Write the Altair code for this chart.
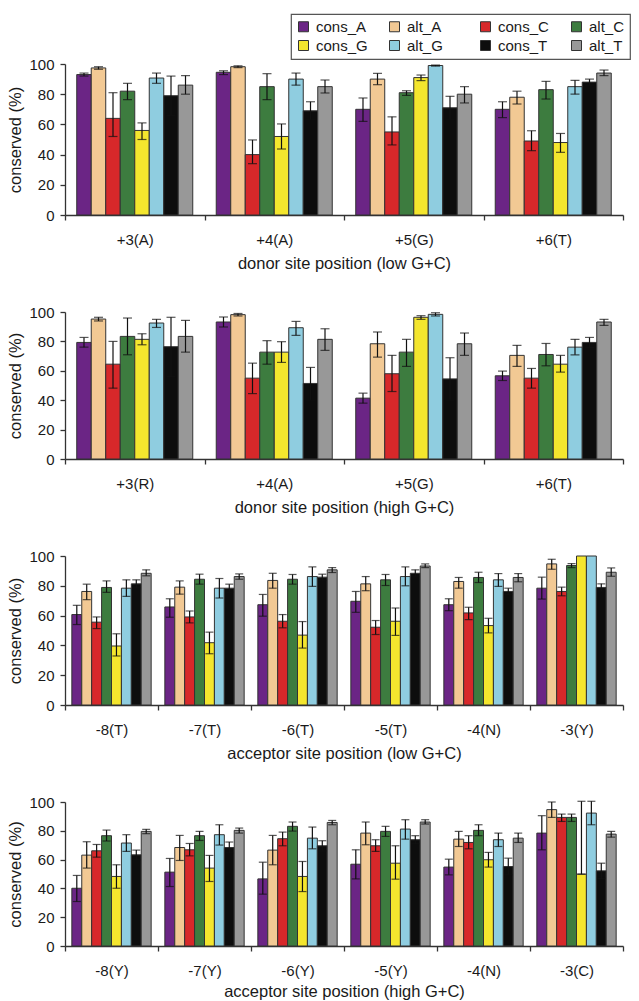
import altair as alt
import pandas as pd

series = ["cons_A", "alt_A", "cons_C", "alt_C", "cons_G", "alt_G", "cons_T", "alt_T"]
colors = ["#6b2585", "#f2c994", "#d7282a", "#3d7c3f", "#f4e62e", "#8fcde0", "#0d0d0d", "#989898"]

# ---- panel 1: donor site position (low G+C) ----
p1_cats = ["+3(A)", "+4(A)", "+5(G)", "+6(T)"]
p1_val = [
    [93, 94.5, 70, 70],
    [97.4, 98.2, 90, 78],
    [64, 40, 55, 49],
    [82, 85, 81, 83],
    [56, 52, 91, 48],
    [90.7, 90, 99, 85],
    [79, 69, 71, 88],
    [86, 85, 80, 94],
]
p1_lo = [
    [92, 93, 62, 64.5],
    [96.5, 97.6, 86.3, 73.5],
    [52, 34, 46.4, 42.6],
    [76.4, 76.4, 79.2, 76.8],
    [50, 43.7, 89, 41.5],
    [87.2, 86, 98.6, 80],
    [66, 63, 63, 86],
    [80, 80.8, 74.2, 92.3],
]
p1_hi = [
    [94, 95.5, 77.5, 75],
    [98.2, 98.8, 93.8, 82],
    [81, 49.7, 65, 55.8],
    [87.2, 93.6, 82.3, 88.5],
    [61, 60.3, 92.7, 54],
    [94, 94, 99.3, 89.2],
    [92, 75, 78.6, 90],
    [92.3, 89.4, 85, 96],
]

# ---- panel 2: donor site position (high G+C) ----
p2_cats = ["+3(R)", "+4(A)", "+5(G)", "+6(T)"]
p2_val = [
    [79.3, 93.2, 41.4, 56.6],
    [95.2, 98.2, 78.4, 70.5],
    [64.5, 55, 58, 55],
    [83.4, 72.7, 72.7, 71.1],
    [81.4, 72.7, 96.4, 64.5],
    [92.5, 89.3, 98.4, 76.1],
    [76.4, 51.4, 54.5, 79.3],
    [83.4, 81.4, 78.4, 93.2],
]
p2_lo = [
    [76.1, 89.8, 38, 53.4],
    [93.9, 97.3, 69.3, 63],
    [48.2, 44.5, 45.9, 48.2],
    [70.9, 64.5, 63, 63.4],
    [77.7, 65.7, 95, 59.1],
    [89.5, 84.1, 97.3, 70.9],
    [56, 40, 40, 76],
    [72.7, 73.9, 70.5, 90.9],
]
p2_hi = [
    [82.7, 96.6, 44.8, 59.8],
    [96.4, 99, 86.4, 77.3],
    [80, 65.2, 70.5, 61.6],
    [95.9, 80.5, 81.4, 78.6],
    [85.2, 79.8, 97.5, 70.5],
    [95, 93.6, 99.5, 81.4],
    [96.4, 62.3, 68.9, 82.7],
    [94.3, 88.6, 85.7, 95],
]

# ---- panel 3: acceptor site position (low G+C) ----
p3_cats = ["-8(T)", "-7(T)", "-6(T)", "-5(T)", "-4(N)", "-3(Y)"]
p3_val = [
    [60.7, 65.8, 67.3, 69.6, 67.3, 78.4],
    [76.2, 79.1, 83.6, 81.3, 82.9, 94.7],
    [55.6, 59.1, 56.2, 52.2, 61.8, 76.2],
    [78.9, 84.4, 84.4, 84, 85.6, 93.6],
    [39.6, 41.8, 46.9, 56.2, 53.3, 100],
    [78.4, 78.4, 86.2, 86.2, 84, 100],
    [81.3, 78.4, 85.8, 88.4, 76.2, 78.9],
    [88.4, 86.2, 90.7, 93.3, 85.6, 89.1],
]
p3_lo = [
    [54, 58.9, 59.6, 62.2, 63.3, 71.1],
    [70.7, 74.4, 78.4, 76.7, 78.4, 91.1],
    [51.3, 55.1, 51.8, 47.3, 57.3, 73.3],
    [75.6, 81.1, 81.1, 80.2, 82.2, 92.2],
    [32.9, 34.4, 38.2, 46.7, 48.4, None],
    [72.9, 71.8, 79.6, 80, 79.6, None],
    [78.6, 75.7, 83.8, 86.1, 74, 76.5],
    [86.7, 84.4, 88.9, 92.2, 82.7, 86.4],
]
p3_hi = [
    [66.9, 71.3, 74.2, 76.2, 71.3, 85.8],
    [81.1, 83.3, 88.4, 86.2, 85.6, 97.8],
    [59.1, 63.1, 60.7, 56.7, 65.6, 79.1],
    [83.3, 87.8, 87.6, 87.6, 89.1, 94.9],
    [47.8, 48.9, 56, 65.1, 58.2, None],
    [84, 84.9, 92.7, 92.7, 88.2, None],
    [84, 81.1, 87.8, 90.7, 78.4, 81.3],
    [90.7, 88, 92.2, 94.7, 88.2, 92],
]

# ---- panel 4: acceptor site position (high G+C) ----
p4_cats = ["-8(Y)", "-7(Y)", "-6(Y)", "-5(Y)", "-4(N)", "-3(C)"]
p4_val = [
    [40.1, 51.3, 46.6, 56.8, 54.8, 78.4],
    [63.1, 68.4, 66.6, 78.4, 74.2, 94.7],
    [66.1, 66.8, 74.5, 69.6, 71.9, 89.3],
    [76.6, 76.6, 83.1, 79.6, 80.3, 89.3],
    [48.3, 54.1, 48.3, 57.5, 59.9, 49.9],
    [71.5, 77.3, 74.9, 81.2, 73.8, 92.3],
    [63.3, 68.4, 69.6, 73.8, 55.2, 52.2],
    [79.6, 80.3, 85.8, 86.1, 74.9, 77.7],
]
p4_lo = [
    [30.9, 41.3, 36, 46.6, 49.4, 66.8],
    [54.1, 59.4, 56.4, 70.3, 69.1, 89.3],
    [61.7, 62.6, 69.6, 65.7, 67.5, 86.5],
    [72.9, 73.3, 79.8, 76.1, 76.6, 86.5],
    [40.1, 44.8, 37.8, 46.4, 54.8, 49.9],
    [65.7, 70.1, 67.5, 74.2, 69.1, 84.2],
    [60, 64.6, 66.1, 71, 49.4, 46.9],
    [78, 78.4, 84.2, 84.7, 71.9, 75.6],
]
p4_hi = [
    [49, 60.8, 58.2, 66.8, 60.3, 90.5],
    [72.4, 76.8, 76.8, 86.1, 79.6, 100],
    [70.5, 71.2, 79.1, 73.8, 76.6, 91.6],
    [80.5, 79.6, 86.1, 83.1, 84.2, 91.6],
    [56.4, 62.9, 58.7, 69.6, 65, 100.5],
    [77.3, 84.2, 82.6, 87.7, 78.4, 100.5],
    [66.6, 72.2, 73.1, 76.6, 61, 57.5],
    [81, 81.9, 87.2, 87.7, 78.4, 79.6],
]

FONT = "Liberation Sans"
YTITLE = "conserved (%)"


def panel(cats, vals, los, his, title, h, pad_outer, cap, xtitle_pad=8):
    rows = []
    for si, s in enumerate(series):
        for ci, c in enumerate(cats):
            rows.append(dict(cat=c, series=s, val=vals[si][ci], lo=los[si][ci], hi=his[si][ci]))
    df = pd.DataFrame(rows)
    x = alt.X(
        "cat:N", sort=cats, title=title,
        scale=alt.Scale(paddingInner=0, paddingOuter=0),
        axis=alt.Axis(labelAngle=0, tickBand="extent", tickSize=5, labelPadding=12,
                      titlePadding=xtitle_pad),
    )
    xo = alt.XOffset("series:N", sort=series,
                     scale=alt.Scale(paddingInner=0, paddingOuter=pad_outer))
    yscale = alt.Scale(domain=[0, 100], nice=False)
    yaxis = alt.Axis(values=[0, 20, 40, 60, 80, 100], tickSize=5, labelPadding=6,
                     titlePadding=5)
    base = alt.Chart(df).encode(x=x, xOffset=xo)
    bars = base.mark_bar(stroke="#333333", strokeWidth=1).encode(
        y=alt.Y("val:Q", scale=yscale, axis=yaxis, title=YTITLE),
        color=alt.Color("series:N", sort=series,
                        scale=alt.Scale(domain=series, range=colors),
                        legend=alt.Legend(title=None)),
    )
    rule = base.mark_rule(color="#111111", strokeWidth=1.2).encode(
        y=alt.Y("lo:Q", scale=yscale, axis=yaxis, title=YTITLE), y2="hi:Q"
    )
    t_lo = base.mark_tick(color="#111111", thickness=1.2, size=cap).encode(
        y=alt.Y("lo:Q", scale=yscale, axis=yaxis, title=YTITLE)
    )
    t_hi = base.mark_tick(color="#111111", thickness=1.2, size=cap).encode(
        y=alt.Y("hi:Q", scale=yscale, axis=yaxis, title=YTITLE)
    )
    return alt.layer(bars, rule, t_lo, t_hi).properties(width=558, height=h)


c1 = panel(p1_cats, p1_val, p1_lo, p1_hi, "donor site position (low G+C)", 151, 0.81, 9)
c2 = panel(p2_cats, p2_val, p2_lo, p2_hi, "donor site position (high G+C)", 147, 0.81, 9)
c3 = panel(p3_cats, p3_val, p3_lo, p3_hi, "acceptor site position (low G+C)", 149, 0.69, 8)
c4 = panel(p4_cats, p4_val, p4_lo, p4_hi, "acceptor site position (high G+C)", 144, 0.69, 8, 5)

chart = (
    alt.vconcat(c1, c2, c3, c4, spacing=33)
    .resolve_scale(x="independent", xOffset="independent")
    .properties(padding={"left": 7, "top": 13, "right": 2, "bottom": 2})
    .configure_view(stroke=None)
    .configure_axis(
        labelFont=FONT, titleFont=FONT, labelFontSize=15, titleFontSize=16.5,
        titleFontWeight="normal", labelColor="#1a1a1a", titleColor="#1a1a1a",
        domainColor="#333333", tickColor="#333333", domainWidth=1.3, tickWidth=1.3,
        grid=False,
    )
    .configure_legend(
        orient="none", legendX=226, legendY=-50, columns=4, gridAlign="all",
        direction="horizontal",
        symbolType="square", symbolSize=100, symbolStrokeColor="#333333",
        symbolStrokeWidth=1, labelFont=FONT, labelFontSize=15, labelColor="#1a1a1a",
        labelOffset=5, columnPadding=19, rowPadding=3, padding=5,
        strokeColor="#555555", strokeWidth=1.2, fillColor="white",
    )
)

chart.save("out.html", embed_options={"renderer": "svg", "actions": False})
